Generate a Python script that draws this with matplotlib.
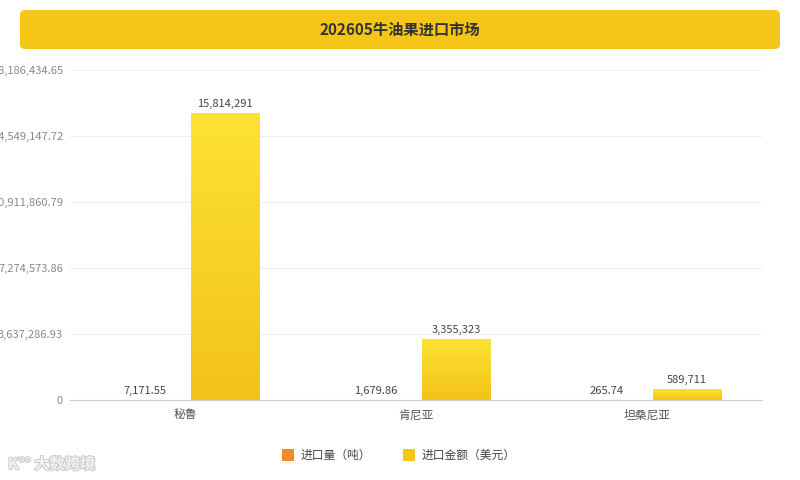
import numpy as np
import matplotlib.pyplot as plt
import matplotlib.patheffects as pe
from matplotlib.patches import FancyBboxPatch, Rectangle
from matplotlib.colors import LinearSegmentedColormap
from matplotlib.transforms import IdentityTransform

plt.rcParams['font.family'] = ['Noto Sans CJK SC', 'DejaVu Sans']

# 数据
title = '202605牛油果进口市场'
countries = ['秘鲁', '肯尼亚', '坦桑尼亚']
qty = [7171.55, 1679.86, 265.74]            # 进口量（吨）
amount = [15814291, 3355323, 589711]        # 进口金额（美元）
y_ticks = [0, 3637286.93, 7274573.86, 10911860.79, 14549147.72, 18186434.65]
series_names = ['进口量（吨）', '进口金额（美元）']

ORANGE = '#F08A2C'
YELLOW = '#F5C518'

fig = plt.figure(figsize=(8, 4.8), dpi=100)
ax = fig.add_axes([70 / 800, 80 / 480, 692 / 800, 330 / 480])

x = np.arange(len(countries))
w = 0.295
off = 0.173

b1 = ax.bar(x - off, qty, w, color=ORANGE, zorder=3)
b2 = ax.bar(x + off, amount, w, color=YELLOW, zorder=3)

# 渐变色柱子（上浅下深）
cmap = LinearSegmentedColormap.from_list('g', ['#F2C218', '#FDE334'])
grad = np.linspace(0, 1, 256).reshape(-1, 1)
for r in b2:
    x0, y0 = r.get_x(), r.get_y()
    ax.imshow(grad, cmap=cmap, origin='lower', aspect='auto',
              extent=[x0, x0 + r.get_width(), y0, y0 + r.get_height()], zorder=4)
    r.set_visible(False)

ax.set_xlim(-0.5, len(countries) - 0.5)
ax.set_ylim(0, y_ticks[-1])
ax.set_yticks(y_ticks)
ax.set_yticklabels(['0' if v == 0 else f'{v:,.2f}' for v in y_ticks])
ax.set_xticks(x)
ax.set_xticklabels(countries)

ax.grid(axis='y', color='#EEEEEE', linewidth=0.8, zorder=0)
for s in ['top', 'right', 'left']:
    ax.spines[s].set_visible(False)
ax.spines['bottom'].set_color('#CCCCCC')
ax.tick_params(axis='y', length=0, pad=5, labelsize=8, labelcolor='#888888')
ax.tick_params(axis='x', length=0, pad=6, labelsize=8.5, labelcolor='#555555')

for i in range(len(countries)):
    ax.annotate(f'{qty[i]:,.2f}', (x[i] - off, qty[i]), xytext=(0, 3),
                textcoords='offset points', ha='center', va='bottom',
                fontsize=8, color='#444444', zorder=5)
    ax.annotate(f'{amount[i]:,}', (x[i] + off, amount[i]), xytext=(0, 3),
                textcoords='offset points', ha='center', va='bottom',
                fontsize=8, color='#444444', zorder=5)

# 标题栏
banner = FancyBboxPatch((20, 431), 760, 39, boxstyle='round,pad=0,rounding_size=5',
                        transform=IdentityTransform(), facecolor=YELLOW,
                        edgecolor='none')
fig.patches.append(banner)
fig.text(0.5, 1 - 30 / 480, title, ha='center', va='center', fontsize=11,
         color='#333333', fontweight='bold')

# 图例
for col, name, lx in zip([ORANGE, YELLOW], series_names, [282, 403]):
    fig.patches.append(Rectangle((lx, 480 - 461), 12, 12, transform=IdentityTransform(),
                                 facecolor=col, edgecolor='none'))
    fig.text((lx + 19) / 800, 1 - 455 / 480, name, ha='left', va='center',
             fontsize=8.5, color='#444444')

# 水印
fig.text(8 / 800, 1 - 464 / 480, 'K°° 大数跨境', ha='left', va='center', fontsize=11,
         color='#F2F2F2', fontweight='bold',
         path_effects=[pe.withStroke(linewidth=1.5, foreground='#CCCCCC')])

fig.savefig('out.png', dpi=100)
